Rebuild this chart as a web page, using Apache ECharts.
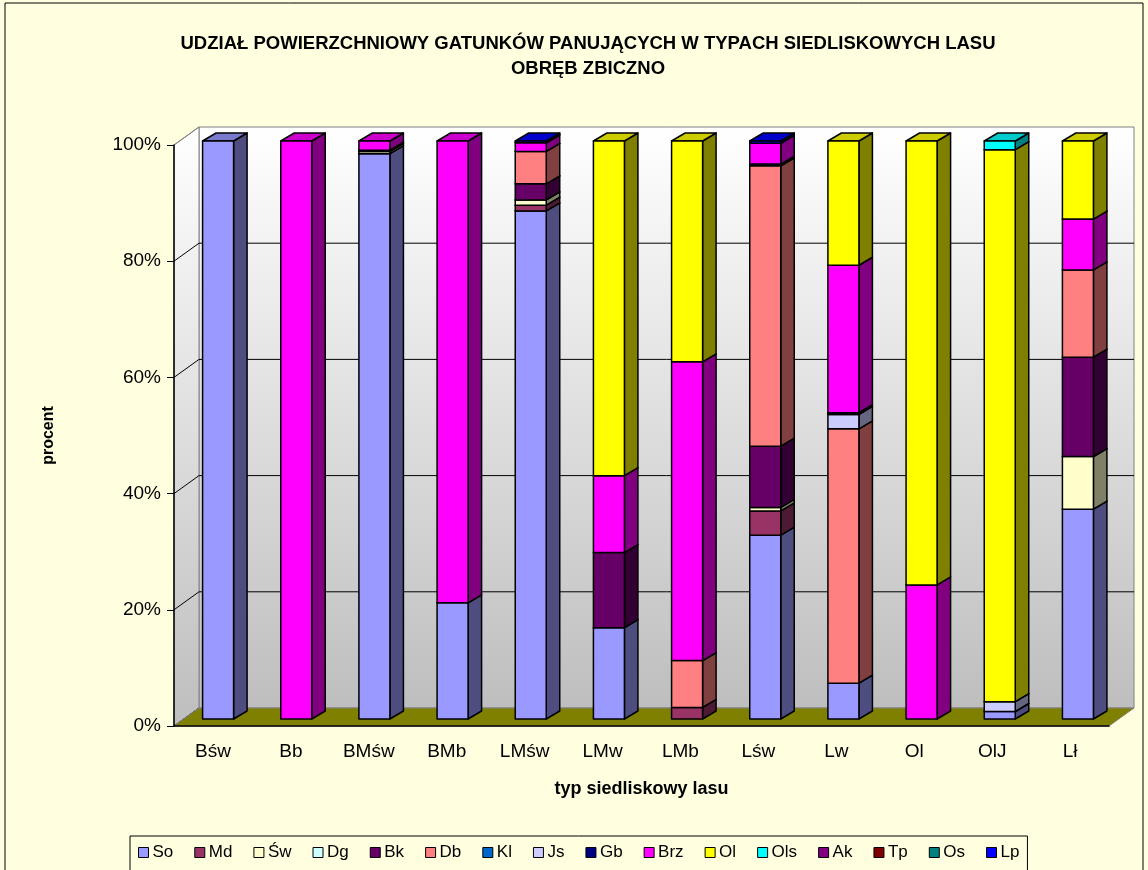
<!DOCTYPE html>
<html lang="pl">
<head>
<meta charset="utf-8">
<script src="https://cdn.jsdelivr.net/npm/echarts@6/dist/echarts.min.js"></script>
<style>
  html, body { margin: 0; padding: 0; background: #FFFFE0; }
  #chart { width: 1148px; height: 870px; }
</style>
</head>
<body>
<div id="chart"></div>
<script>
// typy siedliskowe lasu
var categories = ['Bśw', 'Bb', 'BMśw', 'BMb', 'LMśw', 'LMw', 'LMb', 'Lśw', 'Lw', 'Ol', 'OlJ', 'Lł'];
var yTicks = [0, 20, 40, 60, 80, 100];

// gatunki panujące (kolejność w stosie od dołu)
var species = ['So', 'Md', 'Św', 'Dg', 'Bk', 'Db', 'Kl', 'Js', 'Gb', 'Brz', 'Ol', 'Ols', 'Ak', 'Tp', 'Os', 'Lp'];
var colors  = ['#9999FF', '#993366', '#FFFFCC', '#CCFFFF', '#660066', '#FF8080', '#0066CC', '#CCCCFF',
               '#000080', '#FF00FF', '#FFFF00', '#00FFFF', '#800080', '#800000', '#008080', '#0000FF'];

// udział w %
var So  = [100, 0, 97.8, 20.1, 87.9, 15.8, 0, 31.8, 6.2, 0, 1.3, 36.3];
var Md  = [0, 0, 0, 0, 1.0, 0, 2.0, 4.2, 0, 0, 0, 0];
var Sw  = [0, 0, 0.4, 0, 0.9, 0, 0, 0.6, 0, 0, 0, 9.1];
var Dg  = [0, 0, 0, 0, 0, 0, 0, 0, 0, 0, 0, 0];
var Bk  = [0, 0, 0.2, 0, 2.8, 13.0, 0, 10.6, 0, 0, 0, 17.2];
var Db  = [0, 0, 0, 0, 5.6, 0, 8.1, 48.5, 44.0, 0, 0, 15.1];
var Kl  = [0, 0, 0, 0, 0, 0, 0, 0, 0, 0, 0, 0];
var Js  = [0, 0, 0, 0, 0, 0, 0, 0, 2.5, 0, 1.7, 0];
var Gb  = [0, 0, 0, 0, 0, 0, 0, 0.3, 0.3, 0, 0, 0];
var Brz = [0, 100, 1.6, 79.9, 1.5, 13.3, 51.7, 3.6, 25.5, 23.2, 0, 8.8];
var Ol  = [0, 0, 0, 0, 0, 57.9, 38.2, 0, 21.5, 76.8, 95.5, 13.5];
var Ols = [0, 0, 0, 0, 0, 0, 0, 0, 0, 0, 1.5, 0];
var Ak  = [0, 0, 0, 0, 0, 0, 0, 0, 0, 0, 0, 0];
var Tp  = [0, 0, 0, 0, 0, 0, 0, 0, 0, 0, 0, 0];
var Os  = [0, 0, 0, 0, 0, 0, 0, 0, 0, 0, 0, 0];
var Lp  = [0, 0, 0, 0, 0.3, 0, 0, 0.4, 0, 0, 0, 0];
var values = [So, Md, Sw, Dg, Bk, Db, Kl, Js, Gb, Brz, Ol, Ols, Ak, Tp, Os, Lp];

// efekt 3D
var WALL_DX = 25, WALL_DY = -18;   // głębokość ścian
var BAR_DX = 13.5, BAR_DY = -8;    // głębokość słupka
var BAR_W = 31;

function shade(hex, k) {
  var n = parseInt(hex.slice(1), 16);
  var r = Math.round(((n >> 16) & 255) * k), g = Math.round(((n >> 8) & 255) * k), b = Math.round((n & 255) * k);
  return 'rgb(' + r + ',' + g + ',' + b + ')';
}

function renderFrame(params, api) {
  var cs = params.coordSys;
  var bottom = cs.y + cs.height;
  var wallFill = new echarts.graphic.LinearGradient(0, 0, 0, 1, [
    { offset: 0, color: '#FFFFFF' }, { offset: 1, color: '#BEBEBE' }
  ]);
  var children = [
    { type: 'rect', shape: { x: cs.x + WALL_DX, y: cs.y + WALL_DY, width: cs.width, height: cs.height },
      style: { fill: wallFill, stroke: '#808080', lineWidth: 1 } },
    { type: 'polygon', shape: { points: [[cs.x, cs.y], [cs.x + WALL_DX, cs.y + WALL_DY],
        [cs.x + WALL_DX, bottom + WALL_DY], [cs.x, bottom]] },
      style: { fill: wallFill, stroke: '#808080', lineWidth: 1 } }
  ];
  yTicks.forEach(function (v) {
    var y = api.coord([0, v])[1];
    if (v > 0 && v < 100) {
      children.push({ type: 'line', shape: { x1: cs.x + WALL_DX, y1: y + WALL_DY, x2: cs.x + cs.width + WALL_DX, y2: y + WALL_DY },
        style: { stroke: '#000', lineWidth: 1 } });
    }
    children.push({ type: 'line', shape: { x1: cs.x, y1: y, x2: cs.x + WALL_DX, y2: y + WALL_DY },
      style: { stroke: v === 100 ? '#808080' : '#000', lineWidth: 1 } });
  });
  children.push({ type: 'polygon', shape: { points: [[cs.x, bottom], [cs.x + cs.width, bottom],
      [cs.x + cs.width + WALL_DX, bottom + WALL_DY], [cs.x + WALL_DX, bottom + WALL_DY]] },
    style: { fill: '#808000', stroke: '#808080', lineWidth: 1 } });
  return { type: 'group', children: children };
}

function makeBarRenderer(color) {
  return function (params, api) {
    var b = api.coord([api.value(0), api.value(1)]);
    var t = api.coord([api.value(0), api.value(2)]);
    var x0 = b[0] - BAR_W / 2, x1 = b[0] + BAR_W / 2, y0 = b[1], y1 = t[1];
    var line = { stroke: '#000', lineWidth: 1.5, lineJoin: 'round' };
    return {
      type: 'group',
      children: [
        { type: 'polygon', shape: { points: [[x1, y0], [x1 + BAR_DX, y0 + BAR_DY], [x1 + BAR_DX, y1 + BAR_DY], [x1, y1]] },
          style: Object.assign({ fill: shade(color, 0.5) }, line) },
        { type: 'polygon', shape: { points: [[x0, y1], [x1, y1], [x1 + BAR_DX, y1 + BAR_DY], [x0 + BAR_DX, y1 + BAR_DY]] },
          style: Object.assign({ fill: shade(color, 0.8) }, line) },
        { type: 'rect', shape: { x: x0, y: y1, width: BAR_W, height: y0 - y1 },
          style: Object.assign({ fill: color }, line) }
      ]
    };
  };
}

var cum = categories.map(function () { return 0; });
var barSeries = species.map(function (name, s) {
  var data = [];
  values[s].forEach(function (v, i) {
    if (v > 0) { data.push([i, cum[i], cum[i] + v]); cum[i] += v; }
  });
  return {
    name: name,
    type: 'custom',
    xAxisIndex: 1,
    yAxisIndex: 1,
    itemStyle: { color: colors[s], borderColor: '#000', borderWidth: 1 },
    renderItem: makeBarRenderer(colors[s]),
    encode: { x: 0, y: [1, 2] },
    data: data,
    z: 3
  };
});

var chart = echarts.init(document.getElementById('chart'));
chart.setOption({
  backgroundColor: '#FFFFE0',
  animation: false,
  textStyle: { fontFamily: 'Liberation Sans, Arial, sans-serif' },
  graphic: [
    { type: 'rect', shape: { x: 5, y: 3, width: 1138, height: 880 }, style: { fill: 'none', stroke: '#000', lineWidth: 1 }, z: -1 },
    { type: 'text', x: 588, y: 31, style: {
        text: 'UDZIAŁ POWIERZCHNIOWY GATUNKÓW PANUJĄCYCH W TYPACH SIEDLISKOWYCH LASU\nOBRĘB ZBICZNO',
        align: 'center', lineHeight: 25, font: 'bold 18.5px "Liberation Sans", Arial, sans-serif', fill: '#000' } }
  ],
  legend: {
    left: 130, top: 836,
    padding: [8, 8, 14, 8],
    borderColor: '#000', borderWidth: 1,
    icon: 'rect', itemWidth: 10, itemHeight: 10, itemGap: 21,
    itemStyle: { borderColor: '#000', borderWidth: 1 },
    textStyle: { fontSize: 17, color: '#000', padding: [0, 0, 0, -1] },
    data: species
  },
  grid: [
    { left: 174, right: 39, top: 145, bottom: 144 },
    { left: 179, right: 31, top: 141, bottom: 151 }
  ],
  xAxis: [
    { type: 'category', gridIndex: 0, data: categories, z: 10,
      name: 'typ siedliskowy lasu', nameLocation: 'middle', nameGap: 54,
      nameTextStyle: { fontSize: 18, fontWeight: 'bold', color: '#000' },
      axisLine: { lineStyle: { color: '#000', width: 1.5 } },
      axisTick: { length: 9, lineStyle: { color: '#000' } },
      axisLabel: { fontSize: 19, color: '#000', margin: 16 } },
    { type: 'category', gridIndex: 1, data: categories, show: false }
  ],
  yAxis: [
    { type: 'value', gridIndex: 0, min: 0, max: 100, interval: 20, z: 10,
      name: 'procent', nameLocation: 'middle', nameGap: 117, nameRotate: 90,
      nameTextStyle: { fontSize: 16, fontWeight: 'bold', color: '#000' },
      axisLine: { show: true, lineStyle: { color: '#000', width: 1.5 } },
      axisTick: { show: true, length: 7, lineStyle: { color: '#000' } },
      axisLabel: { fontSize: 19, color: '#000', margin: 13, formatter: '{value}%' },
      splitLine: { show: false } },
    { type: 'value', gridIndex: 1, min: 0, max: 100, show: false }
  ],
  series: [{
    type: 'custom',
    xAxisIndex: 0,
    yAxisIndex: 0,
    silent: true,
    legendHoverLink: false,
    renderItem: renderFrame,
    data: [[0, 0]],
    z: 1
  }].concat(barSeries)
});
</script>
</body>
</html>
